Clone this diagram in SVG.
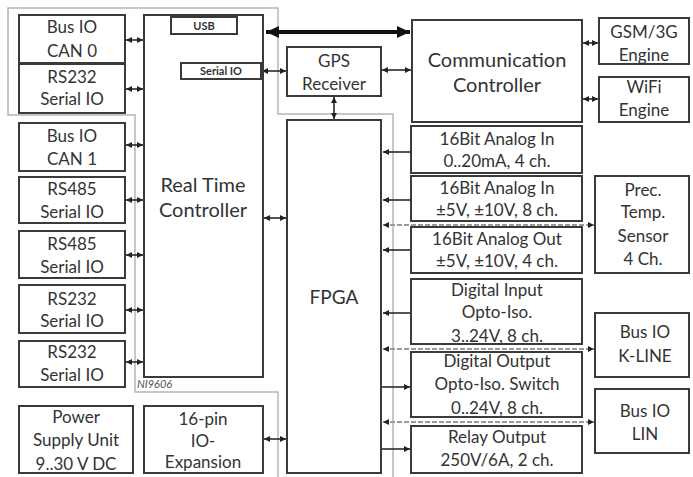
<svg xmlns="http://www.w3.org/2000/svg" width="693" height="477" viewBox="0 0 693 477">
<style>
.box{fill:#fff;stroke:#3a3a3a;stroke-width:2}
.t{font-family:Lato,"Liberation Sans",sans-serif;fill:#333;text-anchor:middle}
.s17{font-size:17px}
.s20{font-size:20px}
.small{font-size:11px;font-weight:bold}
.c{stroke:#2a2a2a;stroke-width:1.6;fill:none}
.g{stroke:#9a9a9a;stroke-width:2;stroke-dasharray:5 2;fill:none}
.board{stroke:#b5b5b5;stroke-width:1.5;fill:none}
</style>
<defs>
<marker id="ah" markerUnits="userSpaceOnUse" markerWidth="7" markerHeight="7" refX="6" refY="3.5" orient="auto-start-reverse"><path d="M0,0.5 L6,3.5 L0,6.5 z" fill="#222"/></marker>
<marker id="big" markerUnits="userSpaceOnUse" markerWidth="14" markerHeight="12" refX="13" refY="6" orient="auto-start-reverse"><path d="M0,0 L13,6 L0,12 z" fill="#111"/></marker>
</defs>

<g id="board">
<path class="board" d="M278,477 V392 H135 V115 H8 V8 H278 V114 H393 V477"/>
<text x="137" y="388" font-family="Lato,'Liberation Sans',sans-serif" font-size="11" font-style="italic" fill="#555">NI9606</text>
</g>

<g id="connectors">
<line class="c" x1="126" y1="40" x2="143" y2="40" marker-start="url(#ah)" marker-end="url(#ah)"/>
<line class="c" x1="126" y1="89" x2="143" y2="89" marker-start="url(#ah)" marker-end="url(#ah)"/>
<line class="c" x1="126" y1="145" x2="143" y2="145" marker-start="url(#ah)" marker-end="url(#ah)"/>
<line class="c" x1="126" y1="200" x2="143" y2="200" marker-start="url(#ah)" marker-end="url(#ah)"/>
<line class="c" x1="126" y1="255" x2="143" y2="255" marker-start="url(#ah)" marker-end="url(#ah)"/>
<line class="c" x1="126" y1="310" x2="143" y2="310" marker-start="url(#ah)" marker-end="url(#ah)"/>
<line class="c" x1="126" y1="362" x2="143" y2="362" marker-start="url(#ah)" marker-end="url(#ah)"/>
<line class="c" x1="264" y1="218" x2="286" y2="218" marker-start="url(#ah)" marker-end="url(#ah)"/>
<line class="c" x1="262" y1="71" x2="286" y2="71" marker-start="url(#ah)" marker-end="url(#ah)"/>
<line class="c" x1="264" y1="439" x2="286" y2="439" marker-start="url(#ah)" marker-end="url(#ah)"/>
<line class="c" x1="382" y1="70" x2="411" y2="70" marker-start="url(#ah)" marker-end="url(#ah)"/>
<line class="c" x1="334" y1="97" x2="334" y2="119" marker-start="url(#ah)" marker-end="url(#ah)"/>
<line class="c" x1="583" y1="43" x2="598" y2="43" marker-start="url(#ah)" marker-end="url(#ah)"/>
<line class="c" x1="583" y1="99" x2="598" y2="99" marker-start="url(#ah)" marker-end="url(#ah)"/>
<line stroke="#111" stroke-width="4" x1="266" y1="32" x2="410" y2="32" marker-start="url(#big)" marker-end="url(#big)"/>
<line class="c" x1="411" y1="152" x2="383" y2="152" marker-end="url(#ah)"/>
<line class="c" x1="411" y1="200" x2="383" y2="200" marker-end="url(#ah)"/>
<line class="c" x1="411" y1="250" x2="383" y2="250" marker-end="url(#ah)"/>
<line class="c" x1="411" y1="313" x2="383" y2="313" marker-end="url(#ah)"/>
<line class="c" x1="382" y1="387" x2="410" y2="387" marker-end="url(#ah)"/>
<line class="c" x1="382" y1="449" x2="410" y2="449" marker-end="url(#ah)"/>
<line class="g" x1="383" y1="225" x2="594" y2="225" marker-start="url(#ah)" marker-end="url(#ah)"/>
<line class="g" x1="383" y1="349" x2="594" y2="349" marker-start="url(#ah)" marker-end="url(#ah)"/>
<line class="g" x1="383" y1="422" x2="594" y2="422" marker-start="url(#ah)" marker-end="url(#ah)"/>
</g>

<g id="can0"><rect class="box" x="19" y="15" width="106" height="48"/><text class="t s17" x="72" y="33">Bus IO</text><text class="t s17" x="72" y="57">CAN 0</text></g>
<g id="rs232a"><rect class="box" x="19" y="64" width="106" height="49"/><text class="t s17" x="72" y="83">RS232</text><text class="t s17" x="72" y="105">Serial IO</text></g>
<g id="can1"><rect class="box" x="19" y="123" width="106" height="48"/><text class="t s17" x="72" y="142">Bus IO</text><text class="t s17" x="72" y="165">CAN 1</text></g>
<g id="rs485a"><rect class="box" x="19" y="177" width="106" height="46"/><text class="t s17" x="72" y="195">RS485</text><text class="t s17" x="72" y="218">Serial IO</text></g>
<g id="rs485b"><rect class="box" x="19" y="231" width="106" height="47"/><text class="t s17" x="72" y="250">RS485</text><text class="t s17" x="72" y="273">Serial IO</text></g>
<g id="rs232b"><rect class="box" x="19" y="285" width="106" height="48"/><text class="t s17" x="72" y="305">RS232</text><text class="t s17" x="72" y="327">Serial IO</text></g>
<g id="rs232c"><rect class="box" x="19" y="341" width="106" height="46"/><text class="t s17" x="72" y="358">RS232</text><text class="t s17" x="72" y="381">Serial IO</text></g>
<g id="psu"><rect class="box" x="19" y="406" width="114" height="67"/><text class="t s17" x="76" y="423">Power</text><text class="t s17" x="76" y="446">Supply Unit</text><text class="t s17" x="76" y="470">9..30 V DC</text></g>
<g id="exp"><rect class="box" x="144" y="406" width="119" height="67"/><text class="t s17" x="203" y="425">16-pin</text><text class="t s17" x="203" y="447">IO-</text><text class="t s17" x="203" y="468">Expansion</text></g>

<g id="rtc"><rect class="box" x="144" y="15" width="119" height="362"/><text class="t s20" x="203" y="192">Real Time</text><text class="t s20" x="203" y="217">Controller</text></g>
<g id="usb"><rect class="box" x="171" y="17" width="66" height="17"/><text class="t small" x="204" y="30">USB</text></g>
<g id="serialio"><rect class="box" x="181" y="63" width="80" height="16"/><text class="t small" x="221" y="75">Serial IO</text></g>

<g id="gps"><rect class="box" x="287" y="47" width="94" height="49"/><text class="t s17" x="334" y="67">GPS</text><text class="t s17" x="334" y="90">Receiver</text></g>
<g id="fpga"><rect class="box" x="287" y="120" width="94" height="353"/><text class="t" font-size="19" x="334" y="304">FPGA</text></g>
<g id="comm"><rect class="box" x="412" y="20" width="170" height="102"/><text class="t s20" x="497" y="67">Communication</text><text class="t s20" x="497" y="92">Controller</text></g>
<g id="gsm"><rect class="box" x="599" y="18" width="90" height="46"/><text class="t s17" x="644" y="38">GSM/3G</text><text class="t s17" x="644" y="61">Engine</text></g>
<g id="wifi"><rect class="box" x="599" y="77" width="90" height="45"/><text class="t s17" x="644" y="93">WiFi</text><text class="t s17" x="644" y="116">Engine</text></g>

<g id="ain1"><rect class="box" x="411" y="126" width="171" height="47"/><text class="t s17" x="497" y="145">16Bit Analog In</text><text class="t s17" x="497" y="167">0..20mA, 4 ch.</text></g>
<g id="ain2"><rect class="box" x="411" y="176" width="171" height="45"/><text class="t s17" x="497" y="194">16Bit Analog In</text><text class="t s17" x="497" y="216">±5V, ±10V, 8 ch.</text></g>
<g id="aout"><rect class="box" x="411" y="227" width="171" height="46"/><text class="t s17" x="497" y="245">16Bit Analog Out</text><text class="t s17" x="497" y="267">±5V, ±10V, 4 ch.</text></g>
<g id="din"><rect class="box" x="411" y="279" width="171" height="65"/><text class="t s17" x="497" y="296">Digital Input</text><text class="t s17" x="497" y="318">Opto-Iso.</text><text class="t s17" x="497" y="342">3..24V, 8 ch.</text></g>
<g id="dout"><rect class="box" x="411" y="352" width="171" height="65"/><text class="t s17" x="497" y="367">Digital Output</text><text class="t s17" x="497" y="390">Opto-Iso. Switch</text><text class="t s17" x="497" y="414">0..24V, 8 ch.</text></g>
<g id="relay"><rect class="box" x="411" y="426" width="171" height="47"/><text class="t s17" x="497" y="443">Relay Output</text><text class="t s17" x="497" y="466">250V/6A, 2 ch.</text></g>

<g id="temp"><rect class="box" x="595" y="176" width="94" height="97"/><text class="t s17" x="643" y="196">Prec.</text><text class="t s17" x="643" y="218">Temp.</text><text class="t s17" x="643" y="242">Sensor</text><text class="t s17" x="643" y="265">4 Ch.</text></g>
<g id="kline"><rect class="box" x="595" y="313" width="94" height="64"/><text class="t s17" x="645" y="338">Bus IO</text><text class="t s17" x="645" y="362">K-LINE</text></g>
<g id="lin"><rect class="box" x="595" y="389" width="94" height="64"/><text class="t s17" x="645" y="417">Bus IO</text><text class="t s17" x="645" y="440">LIN</text></g>
</svg>
